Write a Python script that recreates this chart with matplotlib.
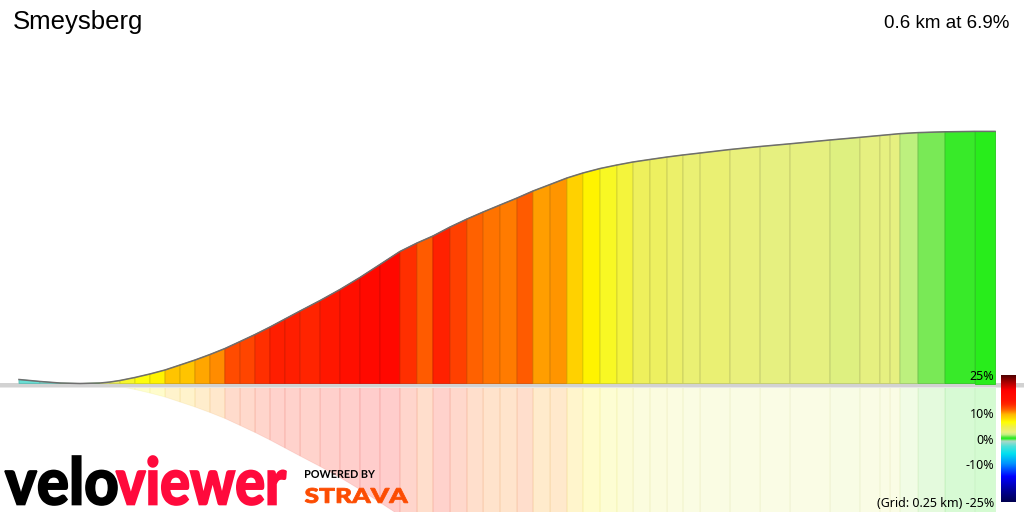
import numpy as np
import matplotlib
matplotlib.use("Agg")
import matplotlib.pyplot as plt
from matplotlib.colors import LinearSegmentedColormap, Normalize, to_rgb
from matplotlib.patches import Polygon, PathPatch
from matplotlib.textpath import TextPath
from matplotlib.font_manager import FontProperties
from matplotlib.transforms import Affine2D

# segment data (distance in m, elevation in m)
segment_name = "Smeysberg"
summary = "0.6 km at 6.9%"
distance = [0, 12.9, 25.2, 37.5, 49.8, 55.9, 62.1, 71.3, 80.5, 89.8, 99.0, 108.2,
            117.4, 126.6, 135.9, 145.1, 154.3, 163.5, 172.8, 185.1, 197.3, 209.6,
            221.9, 234.2, 244.7, 254.5, 265.0, 275.4, 285.3, 295.7, 306.2, 316.0,
            326.5, 336.9, 346.7, 357.2, 367.6, 377.5, 387.9, 398.4, 408.2, 418.7,
            437.1, 455.6, 474.0, 498.6, 517.0, 529.3, 535.5, 541.6, 552.7, 569.3,
            587.7, 600.0]
elevation = [30.65, 30.33, 30.08, 30.00, 30.08, 30.24, 30.49, 30.98, 31.55, 32.20,
             33.01, 33.82, 34.72, 35.69, 36.83, 37.97, 39.19, 40.49, 41.80, 43.50,
             45.29, 47.25, 49.36, 51.48, 52.86, 54.00, 55.46, 56.76, 57.90, 59.04,
             60.18, 61.32, 62.38, 63.44, 64.25, 64.98, 65.55, 66.04, 66.45, 66.85,
             67.18, 67.50, 68.07, 68.56, 69.00, 69.62, 70.05, 70.35, 70.50, 70.65,
             70.82, 70.95, 71.02, 71.02]

# gradient colour scale (%)
grade_stops = [-25, -20, -15, -10, -6, -3, -1, 0, 0.4, 0.8, 1.5, 2.5, 4.5, 6.5,
               8, 9.5, 10.5, 11.5, 12.5, 13.5, 15, 19, 22, 25]
grade_colors = ['#000050', '#0000a0', '#0000ff', '#0090ff', '#00e0f0', '#50e0d8',
                '#b0d8c8', '#20ee14', '#40e830', '#70e850', '#c0f080', '#e8f080',
                '#f0f050', '#ffff00', '#ffd800', '#ffb800', '#ff8c00', '#ff6000',
                '#ff4400', '#ff2800', '#ff1400', '#ff0000', '#b00000', '#500000']
cbar_ticks = [25, 10, 0, -10, -25]
cbar_labels = ['25%', '10%', '0%', '-10%', '(Grid: 0.25 km) -25%']

W, H = 1024, 512
cmap = LinearSegmentedColormap.from_list(
    'grade', [((g + 25) / 50, c) for g, c in zip(grade_stops, grade_colors)])
norm = Normalize(-25, 25)

d = np.array(distance)
e = np.array(elevation) - min(elevation)

fig = plt.figure(figsize=(W / 100, H / 100), dpi=100)
ax = fig.add_axes([0, 0, 1, 1])
ax.axis('off')

# pixel layout of the profile
x0_px, x1_px, base_px = 19, 995, 383.5
m_per_px_y = 0.1627
sx = (x1_px - x0_px) / d[-1]
ax.set_xlim(-x0_px / sx, d[-1] + (W - x1_px) / sx)
ax.set_ylim(-(H - base_px) * m_per_px_y, base_px * m_per_px_y)

for i in range(len(d) - 1):
    g = (e[i + 1] - e[i]) / (d[i + 1] - d[i]) * 100
    c = np.array(to_rgb(cmap(norm(g))))
    edge = c * 0.85
    ax.add_patch(Polygon([(d[i], 0), (d[i], e[i]), (d[i + 1], e[i + 1]), (d[i + 1], 0)],
                         closed=True, facecolor=c, edgecolor=edge, lw=0.6, zorder=3))
    ax.add_patch(Polygon([(d[i], 0), (d[i], -e[i]), (d[i + 1], -e[i + 1]), (d[i + 1], 0)],
                         closed=True, facecolor=(*c, 0.2), edgecolor=(*edge, 0.1),
                         lw=0.6, zorder=1))

ax.axhspan(-0.5, 0.12, color='#d2d2d2', lw=0, zorder=2)
ax.axhspan(-0.75, -0.5, color='#e8e8e8', lw=0, zorder=2)
ax.plot(d, e, color='#6e6e6e', lw=1.1, zorder=4, solid_joinstyle='round')

# titles
fig.text(13 / W, 1 - 29 / H, segment_name, fontsize=18.5, family='Liberation Sans',
         va='baseline', ha='left')
fig.text(1009 / W, 1 - 28 / H, summary, fontsize=13.5, family='Liberation Sans',
         va='baseline', ha='right')

# colour bar
cax = fig.add_axes([1001 / W, 1 - 502 / H, 15 / W, 127 / H])
grad = np.linspace(-25, 25, 256).reshape(-1, 1)
cax.imshow(grad, cmap=cmap, norm=norm, aspect='auto', origin='lower',
           extent=[0, 1, -25, 25])
cax.set_xticks([])
cax.set_yticks(cbar_ticks)
cax.set_yticklabels(cbar_labels, family='Noto Sans', fontsize=9)
cax.yaxis.set_ticks_position('left')
cax.tick_params(length=0, pad=5)
for s in cax.spines.values():
    s.set_visible(False)


# logo texts drawn as paths squeezed into pixel boxes
def logo(text, box, color, weight='black', lw=1.2):
    left, top, right, bottom = box
    fp = FontProperties(family='Lato', weight=weight)
    path = TextPath((0, 0), text, size=10, prop=fp)
    ext = path.get_extents()
    tr = (Affine2D().translate(-ext.x0, -ext.y0)
          .scale((right - left) / ext.width, (bottom - top) / ext.height)
          .translate(left, H - bottom).scale(1 / W, 1 / H) + fig.transFigure)
    fig.patches.append(PathPatch(path, transform=tr, facecolor=color,
                                 edgecolor=color, lw=lw))


logo('velo', (5, 456, 117, 505), '#000000')
logo('viewer', (116, 456, 286, 505), '#ff0a3c')
logo('POWERED BY', (305, 470, 375, 478), '#000000', weight='bold', lw=0)
logo('STRAVA', (305, 488, 408, 503), '#fc4c02', lw=0.6)

fig.savefig('out.png', dpi=100)
